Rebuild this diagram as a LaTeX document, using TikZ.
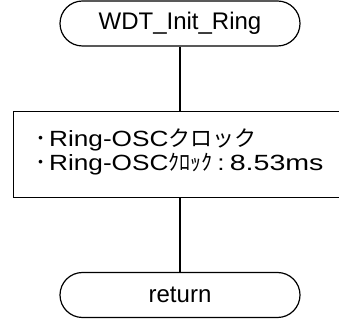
\documentclass[tikz,border=0pt]{standalone}
\usepackage{fontspec}
\setmainfont{Liberation Sans}
\newfontfamily\jpfont{Noto Sans CJK JP}
\newfontfamily\widefont[FakeStretch=1.19]{Liberation Sans}
\newfontfamily\numfont[FakeStretch=1.3]{Liberation Sans}
\usetikzlibrary{shapes.misc,positioning}

\tikzset{
  term/.style={rounded rectangle, draw, line width=1.2pt, minimum width=240pt, minimum height=45pt, inner sep=0pt, font=\fontsize{24}{28}\selectfont},
  procbox/.style={rectangle, minimum width=345pt, minimum height=85pt},
  boxtext/.style={anchor=base west, inner sep=0pt, font=\fontsize{22}{26}\selectfont},
  flow/.style={line width=1.2pt}
}

\begin{document}
\begin{tikzpicture}[x=1pt,y=1pt]
	\useasboundingbox (0,0) rectangle (339,320);
	
	\node[term] (start) at (180,296.5) {WDT\_Init\_Ring};
	\node[procbox] (init) at (186.5,165.5) {};
	\node[term] (ret) at (180,25) {return};
	
	% box runs off the right edge of the page
	\draw[flow] (init.north east -| 345,0) -- (init.north west) -- (init.south west) -- (init.south east -| 345,0);
	
	\node[boxtext] (line1) at (35,173) {{\jpfont ･}\kern3pt{\widefont Ring-OSC}{\jpfont クロック}};
	\node[boxtext] (line2) at (35,149) {{\jpfont ･}\kern3pt{\widefont Ring-OSC}{\jpfont ｸﾛｯｸ}\kern5pt{\widefont :}\kern5pt{\numfont 8.53ms}};
	
	\draw[flow] (start.south) -- (start.south |- init.north);
	\draw[flow] (start.south |- init.south) -- (ret.north);
\end{tikzpicture}
\end{document}
